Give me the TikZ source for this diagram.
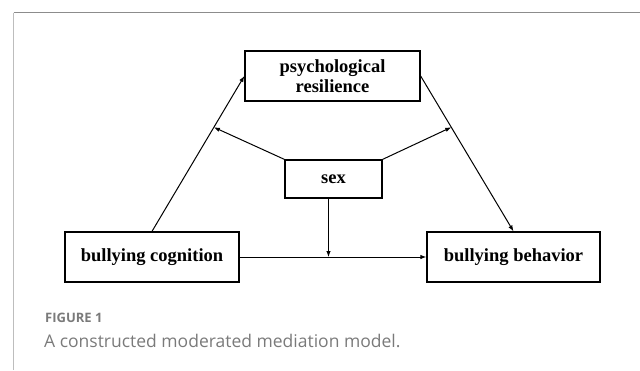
\documentclass[tikz,border=0pt]{standalone}
\usepackage{fontspec}
\setmainfont{Liberation Serif}
\newfontfamily\capfont{Open Sans}
\usepackage{xcolor}
\usepackage{tikz}
\usetikzlibrary{positioning, arrows.meta, calc}

\definecolor{framegray}{HTML}{8C8C8C}
\definecolor{framelight}{HTML}{BDBDBD}
\definecolor{captiongray}{HTML}{7A7A7A}

\tikzset{
  varbox/.style={draw, line width=1.3pt, inner sep=0pt, align=center,
    font=\fontsize{18.5}{20}\selectfont\bfseries},
  link/.style={line width=1pt, -{Latex[length=6pt, width=4.5pt]}}
}

\begin{document}
\begin{tikzpicture}[x=1pt, y=-1pt]
\useasboundingbox (0,0) rectangle (640,370);
% frame
\draw[framegray, line width=1pt] (13.5,12.5) -- (640,12.5);
\draw[framelight, line width=1pt] (13.5,12.5) -- (13.5,370);
% variables
\node[varbox, minimum width=175pt, minimum height=50pt] (psych) at (332.5,76) {psychological\\resilience};
\node[varbox, minimum width=97pt, minimum height=38pt] (sex) at (333.5,179) {sex};
\node[varbox, minimum width=174pt, minimum height=50pt] (cog) at (152,257) {bullying cognition};
\node[varbox, minimum width=173pt, minimum height=50pt] (beh) at (513.5,257) {bullying behavior};
% paths
\draw[link] (cog.north) -- (psych.west);
\draw[link] (psych.east) -- (beh.north);
\draw[link] (cog.east) -- (beh.west);
\coordinate (a) at ($(cog.north)!0.67!(psych.west)$);
\coordinate (b) at ($(psych.east)!0.33!(beh.north)$);
\coordinate (s) at ([xshift=-5pt]sex.south);
\coordinate (c) at (s |- cog.east);
\draw[link] (sex.north west) -- (a);
\draw[link] (sex.north east) -- (b);
\draw[link] (s) -- (c);
% caption
\node[anchor=base west, inner sep=0pt, text=captiongray, font=\capfont\bfseries\fontsize{13}{15}\selectfont] (fig) at (45,322) {FIGURE 1};
\node[anchor=base west, inner sep=0pt, text=captiongray, font=\capfont\fontsize{17.5}{20}\selectfont] (cap) at (44,347) {A constructed moderated mediation model.};
\end{tikzpicture}
\end{document}
